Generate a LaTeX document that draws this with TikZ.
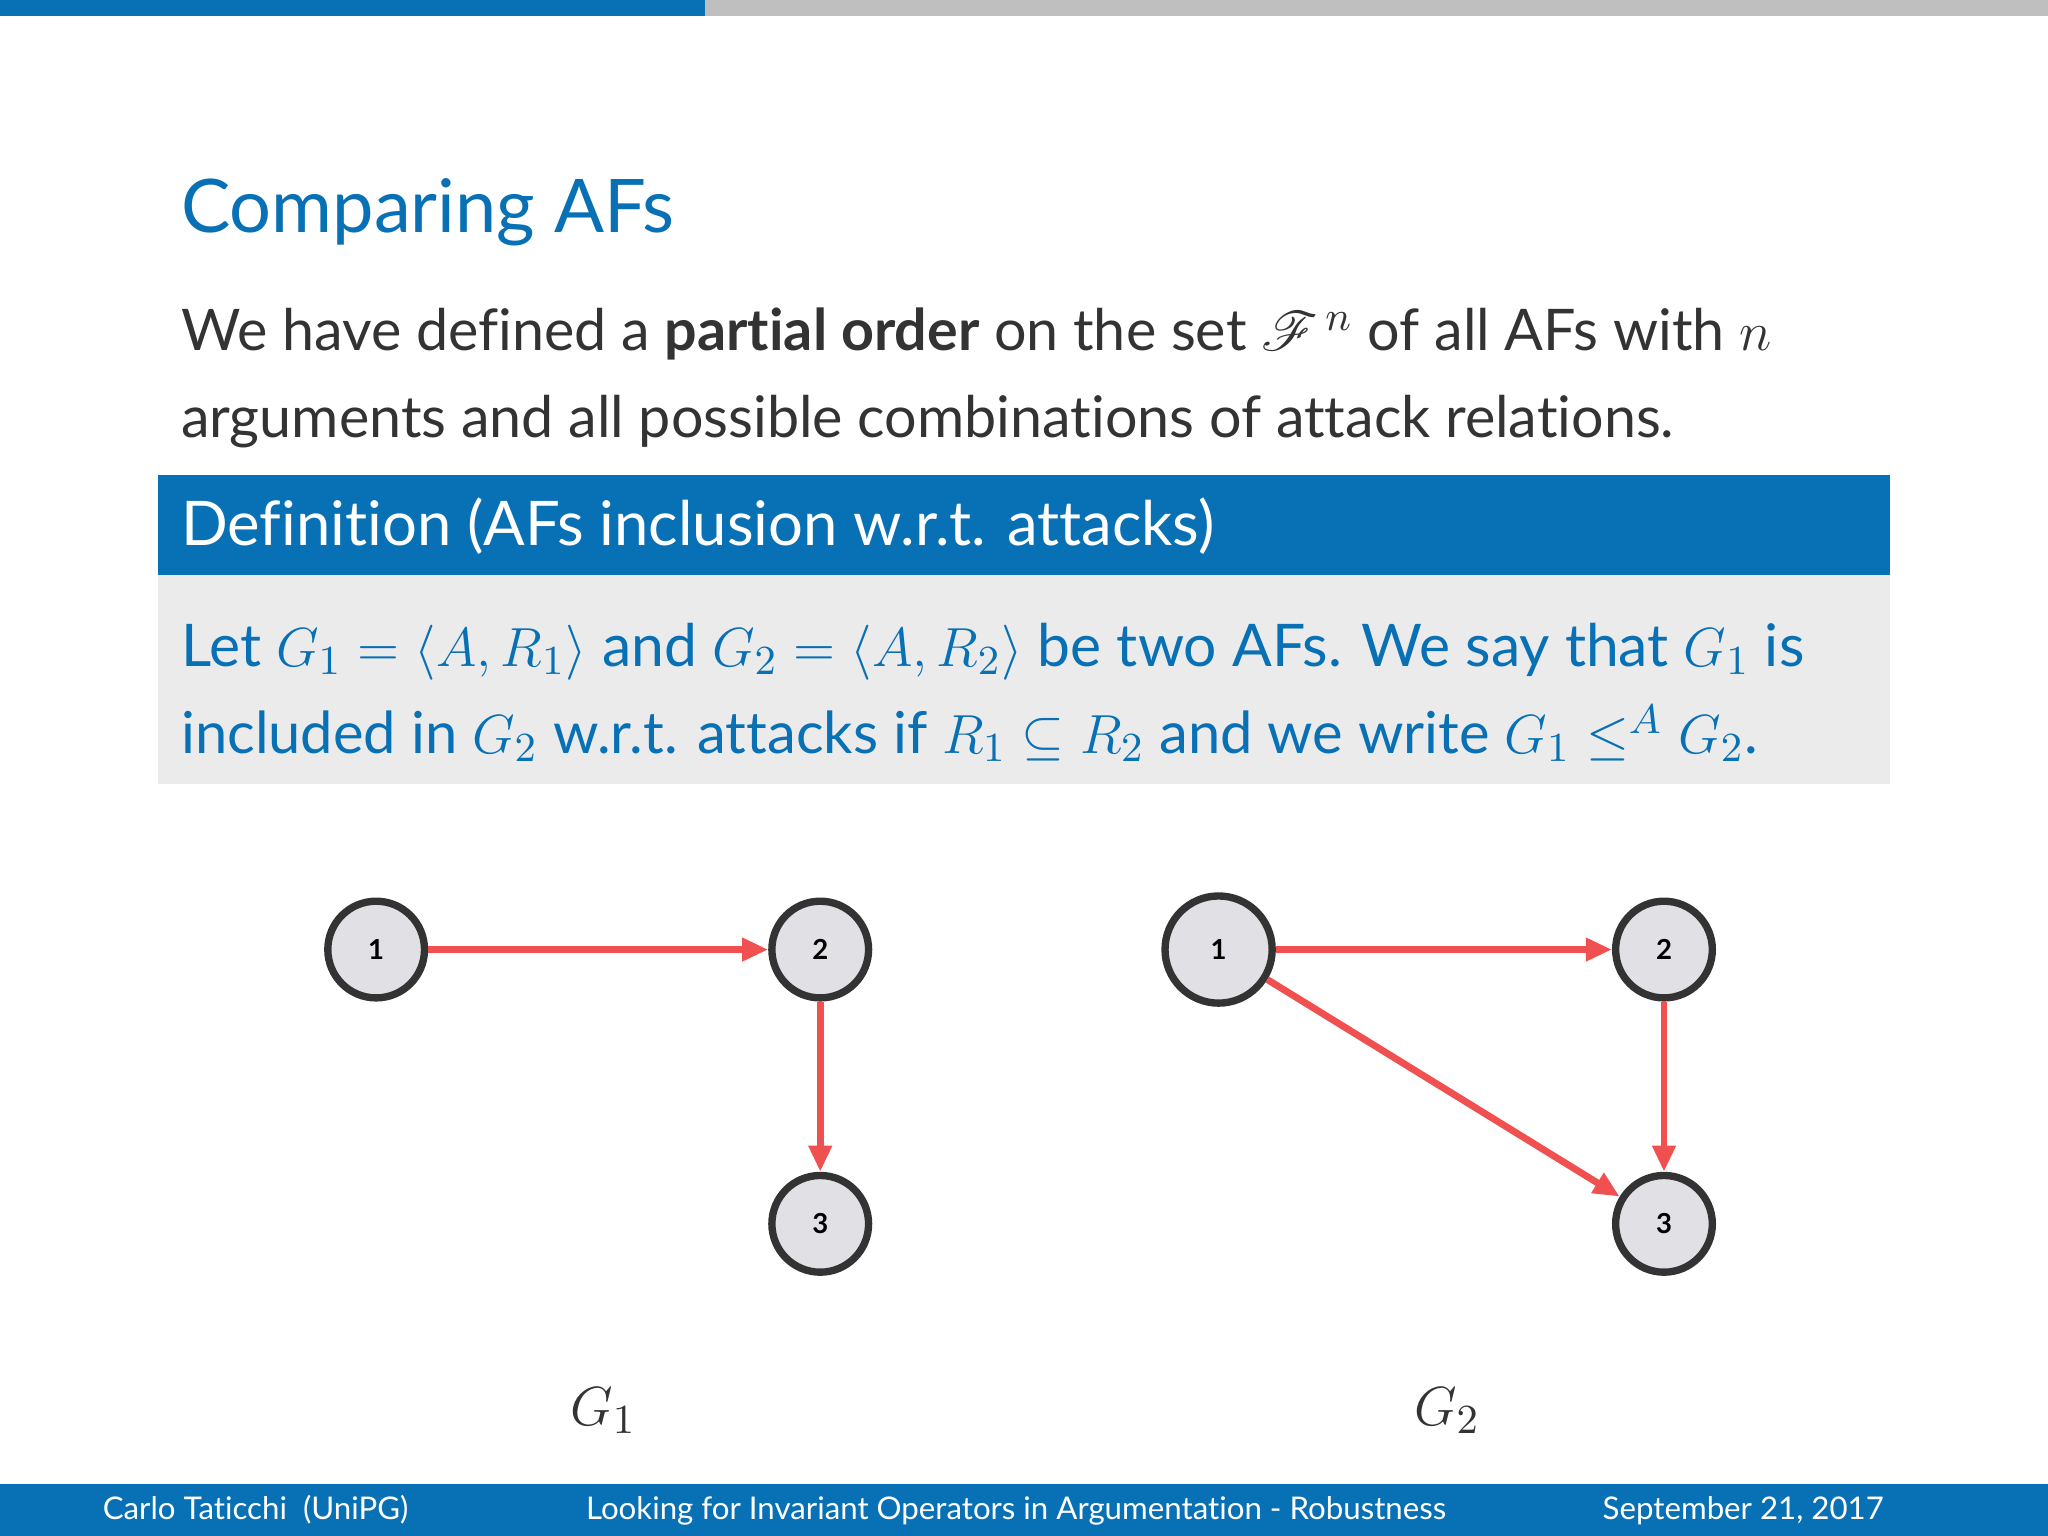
\documentclass[tikz,border=0pt]{standalone}
\usepackage{fontspec}
\usepackage{amssymb,mathrsfs}
\setmainfont[RawFeature={-liga;-clig;-dlig}]{Lato}
\setsansfont[RawFeature={-liga;-clig;-dlig}]{Lato}
\usetikzlibrary{arrows.meta}
\definecolor{mblue}{HTML}{0870B4}
\definecolor{tgray}{HTML}{333333}
\definecolor{bgray}{HTML}{EBEBEB}
\definecolor{nfill}{HTML}{E0E0E5}
\definecolor{ared}{HTML}{F05050}
\tikzset{
 arg/.style={circle,draw=tgray,fill=nfill,line width=1.6pt,minimum size=0.74cm,inner sep=0pt,font=\fontsize{6}{7}\selectfont\bfseries},
 att/.style={draw=ared,line width=1.5pt,-{Triangle[length=0.2cm,width=0.17cm]}},
 bodyline/.style={anchor=base west,inner sep=0pt,font=\fontsize{12.5}{14}\selectfont}
}
\begin{document}
\begin{tikzpicture}[x=0.01cm,y=-0.01cm]
\useasboundingbox (0,0) rectangle (1568,1176);
\fill[white] (0,0) rectangle (1568,1176);
\fill[mblue] (0,0) rectangle (540,12);
\fill[black!25] (540,0) rectangle (1568,12);
\node[anchor=base west,inner sep=0pt,text=mblue,font=\fontsize{16.1}{20}\selectfont] (title) at (138,178) {Comparing AFs};
\node[bodyline,text=tgray] (l1) at (138,268) {We have defined a \textbf{partial order} on the set $\mathscr{F}^{\,n}$ of all AFs with $n$};
\node[bodyline,text=tgray] (l2) at (138,335) {arguments and all possible combinations of attack relations.};
\fill[mblue] (121,364) rectangle (1447,440);
\fill[bgray] (121,440) rectangle (1447,600);
\node[bodyline,text=white,font=\fontsize{13.4}{15}\selectfont] (dh) at (138,418) {Definition (AFs inclusion w.r.t. attacks)};
\node[bodyline,text=mblue,font=\fontsize{12.8}{15}\selectfont] (d1) at (138,510) {Let $G_1=\langle A,R_1\rangle$ and $G_2=\langle A,R_2\rangle$ be two AFs. We say that $G_1$ is};
\node[bodyline,text=mblue,font=\fontsize{12.6}{15}\selectfont] (d2) at (138,577) {included in $G_2$ w.r.t. attacks if $R_1\subseteq R_2$ and we write $G_1\leq^{A} G_2$.};
\node[arg] (a1) at (288,727) {1};
\node[arg] (a2) at (628,727) {2};
\node[arg] (a3) at (628,937) {3};
\draw[att] (a1) -- (a2);
\draw[att] (a2) -- (a3);
\node[arg,minimum size=0.82cm] (b1) at (933,727) {1};
\node[arg] (b2) at (1274,727) {2};
\node[arg] (b3) at (1274,937) {3};
\draw[att] (b1) -- (b2);
\draw[att] (b2) -- (b3);
\draw[att] (b1) -- (b3);
\node[text=tgray,font=\fontsize{12.5}{14}\selectfont] (g1) at (462,1080) {$G_1$};
\node[text=tgray,font=\fontsize{12.5}{14}\selectfont] (g2) at (1108,1080) {$G_2$};
\fill[mblue] (0,1136) rectangle (1568,1176);
\node[anchor=base west,inner sep=0pt,text=white,font=\fontsize{6.8}{8}\selectfont] (f1) at (78,1163) {Carlo Taticchi\ \ (UniPG)};
\node[anchor=base,inner sep=0pt,text=white,font=\fontsize{6.8}{8}\selectfont] (f2) at (778,1163) {Looking for Invariant Operators in Argumentation - Robustness};
\node[anchor=base east,inner sep=0pt,text=white,font=\fontsize{6.8}{8}\selectfont] (f3) at (1443,1163) {September 21, 2017};
\end{tikzpicture}
\end{document}
